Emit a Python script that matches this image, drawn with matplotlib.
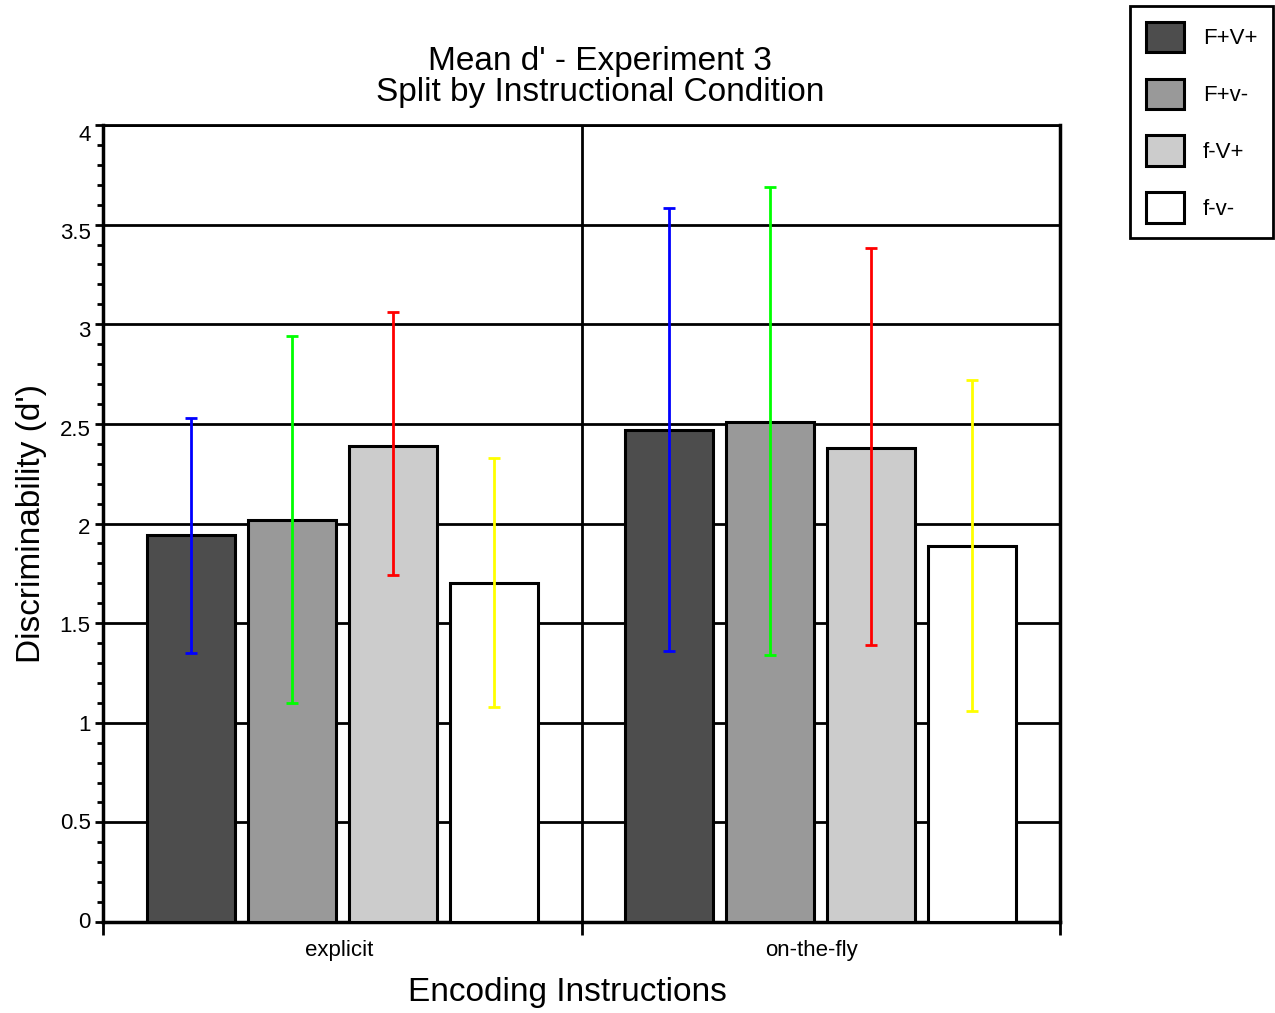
import matplotlib
matplotlib.use("Agg")
import matplotlib.pyplot as plt
import matplotlib.transforms as mtransforms
import numpy as np
from matplotlib.ticker import MultipleLocator

plt.rcParams['font.family'] = ['Liberation Sans', 'DejaVu Sans']

groups = ['explicit', 'on-the-fly']
series = ['F+V+', 'F+v-', 'f-V+', 'f-v-']
means = {
    'F+V+': [1.94, 2.47],
    'F+v-': [2.02, 2.51],
    'f-V+': [2.39, 2.38],
    'f-v-': [1.70, 1.885],
}
err_low = {
    'F+V+': [1.35, 1.36],
    'F+v-': [1.10, 1.34],
    'f-V+': [1.74, 1.39],
    'f-v-': [1.08, 1.06],
}
err_high = {
    'F+V+': [2.53, 3.585],
    'F+v-': [2.94, 3.69],
    'f-V+': [3.06, 3.385],
    'f-v-': [2.33, 2.72],
}
fill_colors = ['#4d4d4d', '#999999', '#cccccc', '#ffffff']
err_colors = ['#0000ff', '#00ff00', '#ff0000', '#ffff00']
yticks = [0, 0.5, 1, 1.5, 2, 2.5, 3, 3.5, 4]
ytick_labels = ['0', '0.5', '1', '1.5', '2', '2.5', '3', '3.5', '4']

fig = plt.figure(figsize=(12.75, 10.13), dpi=100)
ax = fig.add_axes([0.0808, 0.0898, 0.7506, 0.7868])

centers = np.array([0.5, 1.5])
width = 0.184
step = 0.211
offsets = (np.arange(len(series)) - 1.5) * step

handles = []
for i, s in enumerate(series):
    x = centers + offsets[i]
    m = np.array(means[s])
    b = ax.bar(x, m, width=width, color=fill_colors[i], edgecolor='black',
               linewidth=2.2, zorder=3, label=s)
    handles.append(b)
    lo = m - np.array(err_low[s])
    hi = np.array(err_high[s]) - m
    ax.errorbar(x, m, yerr=[lo, hi], fmt='none', ecolor=err_colors[i],
                elinewidth=2, capsize=4.5, capthick=2, zorder=4)

# grid lines
for yv in yticks[1:]:
    ax.axhline(yv, color='black', linewidth=2, zorder=1)
ax.axvline(1, color='black', linewidth=2, zorder=1)

ax.set_xlim(0, 2)
ax.set_ylim(0, 4)
ax.set_yticks(yticks)
ax.set_yticklabels(ytick_labels, fontsize=16)
ax.yaxis.set_minor_locator(MultipleLocator(0.1))
ax.tick_params(axis='y', which='major', length=6, width=2, direction='out', pad=3)
ax.tick_params(axis='y', which='minor', length=4, width=2, direction='out')
for lab, v in zip(ax.get_yticklabels(), yticks):
    lab.set_va('center')
    lab.set_transform(lab.get_transform() +
                      mtransforms.ScaledTranslation(0, -0.025 * v, fig.dpi_scale_trans))

ax.set_xticks([0, 1, 2])
ax.set_xticklabels(['', '', ''])
ax.tick_params(axis='x', which='major', length=9, width=2, direction='out')
ax.set_xticks([0.493, 1.48], groups, minor=True)
ax.tick_params(axis='x', which='minor', length=0, labelsize=16, pad=13)

for sp in ax.spines.values():
    sp.set_linewidth(2.5)
ax.spines['top'].set_linewidth(2)

ax.set_xlabel('Encoding Instructions', fontsize=24)
ax.xaxis.set_label_coords(0.485, -0.069)
ax.set_ylabel("Discriminability (d')", fontsize=24)
ax.yaxis.set_label_coords(-0.059, 0.5)
ax.set_title("Mean d' - Experiment 3\nSplit by Instructional Condition",
             fontsize=24, x=0.519, pad=17, linespacing=1.0)

leg = fig.legend(handles=handles, labels=series, loc='upper right',
                 bbox_to_anchor=(1273/1275, 1 - 6/1013), fontsize=16,
                 handlelength=1.72, handleheight=1.72, labelspacing=1.2,
                 handletextpad=0.85, borderpad=0.7, borderaxespad=0,
                 fancybox=False, framealpha=1, edgecolor='black')
leg.get_frame().set_linewidth(2)

fig.savefig('out.png', dpi=100)
